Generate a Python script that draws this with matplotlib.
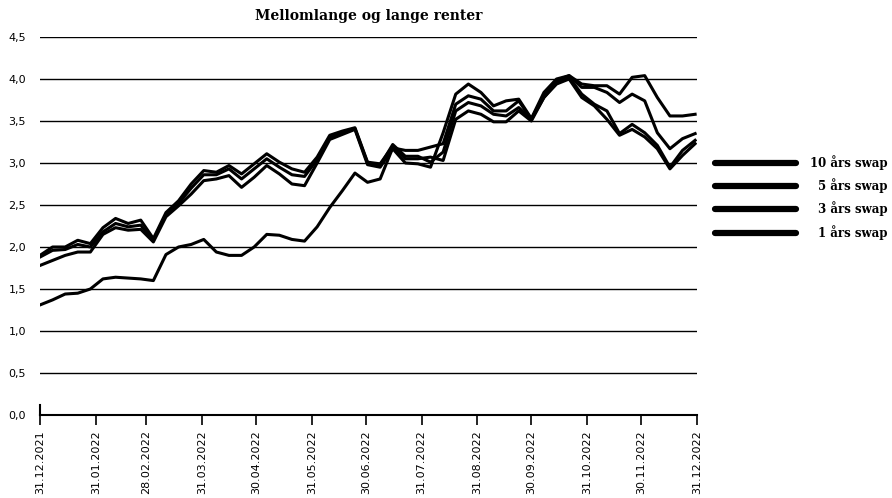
import numpy as np
import pandas as pd
import matplotlib
matplotlib.use("Agg")
import matplotlib.pyplot as plt
from matplotlib.lines import Line2D

# weekly observations, 31.12.2021 - 30.12.2022
dates = pd.date_range("2021-12-31", periods=53, freq="7D")

swap_10y = [1.90, 2.00, 2.00, 2.08, 2.04, 2.23, 2.34, 2.28, 2.32, 2.10,
            2.41, 2.55, 2.75, 2.91, 2.89, 2.97, 2.87, 2.99, 3.11, 3.01,
            2.93, 2.89, 3.07, 3.33, 3.38, 3.42, 3.01, 2.99, 3.20, 3.05,
            3.05, 3.07, 3.03, 3.52, 3.62, 3.58, 3.49, 3.49, 3.62, 3.50,
            3.78, 3.94, 4.00, 3.78, 3.68, 3.52, 3.33, 3.40, 3.31, 3.17,
            2.93, 3.09, 3.23]
swap_5y = [1.88, 1.96, 1.97, 2.03, 2.00, 2.18, 2.28, 2.24, 2.26, 2.08,
           2.38, 2.52, 2.70, 2.86, 2.86, 2.93, 2.81, 2.93, 3.05, 2.95,
           2.86, 2.84, 3.04, 3.31, 3.36, 3.41, 3.00, 2.97, 3.22, 3.08,
           3.08, 3.01, 3.13, 3.62, 3.72, 3.68, 3.58, 3.56, 3.66, 3.52,
           3.78, 3.96, 4.02, 3.82, 3.70, 3.62, 3.35, 3.46, 3.36, 3.21,
           2.95, 3.15, 3.27]
swap_3y = [1.78, 1.84, 1.90, 1.94, 1.94, 2.15, 2.23, 2.20, 2.21, 2.06,
           2.36, 2.49, 2.63, 2.79, 2.81, 2.85, 2.71, 2.83, 2.97, 2.87,
           2.75, 2.73, 3.00, 3.28, 3.34, 3.40, 2.98, 2.95, 3.17, 3.00,
           2.99, 2.95, 3.36, 3.82, 3.94, 3.84, 3.68, 3.74, 3.76, 3.53,
           3.84, 4.00, 4.04, 3.90, 3.90, 3.84, 3.72, 3.82, 3.74, 3.36,
           3.17, 3.29, 3.35]
swap_1y = [1.31, 1.37, 1.44, 1.45, 1.50, 1.62, 1.64, 1.63, 1.62, 1.60,
           1.91, 2.00, 2.03, 2.09, 1.94, 1.90, 1.90, 2.00, 2.15, 2.14,
           2.09, 2.07, 2.24, 2.47, 2.67, 2.88, 2.77, 2.81, 3.18, 3.15,
           3.15, 3.19, 3.23, 3.70, 3.80, 3.76, 3.62, 3.62, 3.74, 3.52,
           3.80, 3.98, 4.04, 3.94, 3.92, 3.92, 3.82, 4.02, 4.04, 3.78,
           3.56, 3.56, 3.58]

series = [("10 års swap", swap_10y), ("5 års swap", swap_5y),
          ("3 års swap", swap_3y), ("1 års swap", swap_1y)]

tick_dates = pd.to_datetime(["2021-12-31", "2022-01-31", "2022-02-28", "2022-03-31",
                             "2022-04-30", "2022-05-31", "2022-06-30", "2022-07-31",
                             "2022-08-31", "2022-09-30", "2022-10-31", "2022-11-30",
                             "2022-12-31"])
y_ticks = np.arange(0, 4.51, 0.5)

fig = plt.figure(figsize=(8.92, 4.98), dpi=100)
ax = fig.add_axes([0.0448, 0.1667, 0.7365, 0.759])

for yv in y_ticks[1:]:
    ax.axhline(yv, color="black", lw=1.0, zorder=1)

for name, vals in series:
    ax.plot(dates, vals, color="black", lw=2.2, solid_joinstyle="round", zorder=3)

ax.set_xlim(tick_dates[0], tick_dates[-1])
ax.set_ylim(0, 4.5)
ax.set_yticks(y_ticks)
ax.set_yticklabels([f"{v:.1f}".replace(".", ",") for v in y_ticks], fontsize=8)
ax.tick_params(axis="y", length=0, pad=10)
ax.set_xticks(tick_dates)
ax.set_xticklabels([d.strftime("%d.%m.%Y") for d in tick_dates], rotation=90,
                   fontsize=8, va="top")
ax.tick_params(axis="x", length=7, width=1.2, color="black", pad=4)

for s in ["top", "right"]:
    ax.spines[s].set_visible(False)
ax.spines["bottom"].set_linewidth(1.5)
ax.spines["left"].set_bounds(0, 0.12)
ax.spines["left"].set_linewidth(1.5)

ax.set_title("Mellomlange og lange renter", family="DejaVu Serif",
             fontweight="bold", fontsize=10, pad=12)

# legend on the right
leg_y = [163, 186, 209, 233]
for (name, vals), yp in zip(series, leg_y):
    yf = 1 - yp / 498
    fig.add_artist(Line2D([715 / 892, 796 / 892], [yf, yf], color="black",
                          lw=4.5, solid_capstyle="round"))
    fig.text(888 / 892, yf, name, ha="right", va="center", family="DejaVu Serif",
             fontweight="bold", fontsize=8.5)

fig.savefig("out.png", dpi=100)
